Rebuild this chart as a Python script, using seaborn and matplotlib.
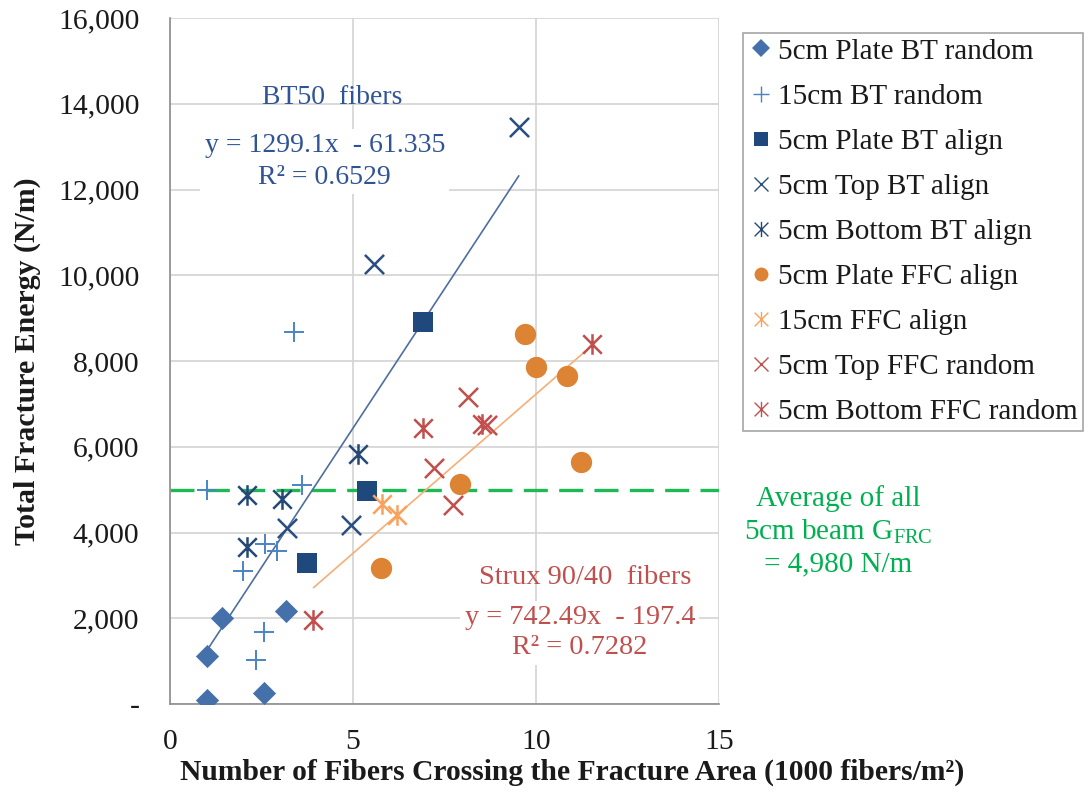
import numpy as np
import pandas as pd
import seaborn as sns
import matplotlib
matplotlib.use("Agg")
import matplotlib.pyplot as plt
from matplotlib.path import Path
from matplotlib.lines import Line2D

# ---- data: fibers crossing (1000 fibers/m^2) vs total fracture energy (N/m) ----
plate_bt_random_x = [1.0, 1.0, 1.43, 3.17, 2.58]
plate_bt_random_y = [100, 1120, 2000, 2170, 250]

bt15_random_x = [1.0, 1.99, 2.6, 2.93, 2.58, 2.34, 3.62, 3.38]
bt15_random_y = [5000, 3100, 3730, 3570, 1670, 1030, 5100, 8680]

plate_bt_align_x = [6.9, 5.37, 3.75]
plate_bt_align_y = [8910, 4960, 3290]

top_bt_align_x = [3.19, 4.94, 5.58, 9.53]
top_bt_align_y = [4110, 4180, 10260, 13460]

bottom_bt_align_x = [2.11, 3.07, 2.11, 5.15]
bottom_bt_align_y = [4880, 4780, 3660, 5840]

plate_ffc_align_x = [9.71, 9.99, 10.86, 11.22, 7.92, 5.76]
plate_ffc_align_y = [8640, 7860, 7650, 5650, 5140, 3170]

ffc15_align_x = [5.78, 6.19]
ffc15_align_y = [4660, 4400]

top_ffc_random_x = [8.15, 7.21, 7.72, 8.65]
top_ffc_random_y = [7150, 5510, 4630, 6510]

bottom_ffc_random_x = [6.92, 8.52, 11.52, 3.92]
bottom_ffc_random_y = [6430, 6520, 8390, 1970]

series_names = ["5cm Plate BT random", "15cm BT random", "5cm Plate BT align",
                "5cm Top BT align", "5cm Bottom BT align", "5cm Plate FFC align",
                "15cm FFC align", "5cm Top FFC random", "5cm Bottom FFC random"]

# trendline coefficients and the overall average
bt_slope, bt_intercept = 1299.1, -61.335
ffc_slope, ffc_intercept = 742.49, -197.4
avg_energy = 4980

xticks = [0, 5, 10, 15]
yticks = [0, 2000, 4000, 6000, 8000, 10000, 12000, 14000, 16000]
ytick_labels = ["-", "2,000", "4,000", "6,000", "8,000", "10,000", "12,000", "14,000", "16,000"]

# ---- long table ----
groups = [
    (plate_bt_random_x, plate_bt_random_y),
    (bt15_random_x, bt15_random_y),
    (plate_bt_align_x, plate_bt_align_y),
    (top_bt_align_x, top_bt_align_y),
    (bottom_bt_align_x, bottom_bt_align_y),
    (plate_ffc_align_x, plate_ffc_align_y),
    (ffc15_align_x, ffc15_align_y),
    (top_ffc_random_x, top_ffc_random_y),
    (bottom_ffc_random_x, bottom_ffc_random_y),
]
df = pd.concat([
    pd.DataFrame({"series": name, "fibers": gx, "energy": gy})
    for name, (gx, gy) in zip(series_names, groups)
], ignore_index=True)
df["fiber_type"] = np.where(df["series"].str.contains("BT"), "BT", "FFC")

# ---- style ----
sns.set_theme(style="white")
plt.rcParams["font.family"] = ["Liberation Serif", "DejaVu Serif"]
plt.rcParams["mathtext.fontset"] = "custom"
plt.rcParams["mathtext.rm"] = "Liberation Serif"
plt.rcParams["mathtext.it"] = "Liberation Serif:italic"

# six-armed star: vertical bar plus an X
star = Path([(0, -1), (0, 1), (-0.9, -0.9), (0.9, 0.9), (-0.9, 0.9), (0.9, -0.9)],
            [Path.MOVETO, Path.LINETO, Path.MOVETO, Path.LINETO, Path.MOVETO, Path.LINETO])

navy = "#1F497D"
styles = {
    "5cm Plate BT random":   dict(marker="D", color="#4571AA", s=140, lw=0, filled=True, lms=9),
    "15cm BT random":        dict(marker="+", color="#4A84C4", s=210, lw=1.4, filled=False, lms=11),
    "5cm Plate BT align":    dict(marker="s", color=navy, s=190, lw=0, filled=True, lms=9.5),
    "5cm Top BT align":      dict(marker="x", color="#2A4E82", s=190, lw=1.8, filled=False, lms=10),
    "5cm Bottom BT align":   dict(marker=star, color="#254877", s=220, lw=1.8, filled=False, lms=11),
    "5cm Plate FFC align":   dict(marker="o", color="#DC8334", s=235, lw=0, filled=True, lms=10),
    "15cm FFC align":        dict(marker=star, color="#F9A25C", s=220, lw=1.8, filled=False, lms=11),
    "5cm Top FFC random":    dict(marker="x", color="#C0504D", s=190, lw=1.8, filled=False, lms=10),
    "5cm Bottom FFC random": dict(marker=star, color="#C0504D", s=220, lw=1.8, filled=False, lms=11),
}

W, H, DPI = 1088, 795, 100
fig = plt.figure(figsize=(W / DPI, H / DPI), dpi=DPI)
ax = fig.add_axes([170 / W, 1 - 704 / H, (719 - 170) / W, (704 - 18) / H])

# grid and average line underneath the markers
ax.set_axisbelow(True)
ax.grid(True, color="#D3D3D3", lw=1.2)
ax.axhline(avg_energy, color="#1DB954", lw=2.4, dashes=(7.2, 3.4), zorder=1.5)

# trendlines over each fiber family's data range
for ftype, slope, icpt, col in [("BT", bt_slope, bt_intercept, "#4E6F9E"),
                                ("FFC", ffc_slope, ffc_intercept, "#F8AE74")]:
    sub = df[df["fiber_type"] == ftype]
    xs = np.array([sub["fibers"].min(), sub["fibers"].max()])
    sns.lineplot(x=xs, y=slope * xs + icpt, color=col, lw=1.2, ax=ax, zorder=2)

# markers, one series at a time
for name in series_names:
    st = styles[name]
    sub = df[df["series"] == name]
    kw = dict(data=sub, x="fibers", y="energy", marker=st["marker"], s=st["s"],
              ax=ax, legend=False, zorder=3)
    if st["filled"]:
        sns.scatterplot(color=st["color"], edgecolor=st["color"], linewidth=0, **kw)
    elif isinstance(st["marker"], Path):
        sns.scatterplot(color=st["color"], edgecolor=st["color"], linewidth=st["lw"], **kw)
    else:
        sns.scatterplot(color=st["color"], linewidth=st["lw"], **kw)

# axes
ax.set_xlim(0, 15)
ax.set_ylim(0, 16000)
ax.set_xticks(xticks)
ax.set_xticklabels([str(t) for t in xticks])
ax.set_yticks(yticks)
ax.set_yticklabels(ytick_labels)
ax.set_xlabel("")
ax.set_ylabel("")
for side in ["top", "right"]:
    ax.spines[side].set_visible(False)
for side in ["left", "bottom"]:
    ax.spines[side].set_color("#8C8C8C")
    ax.spines[side].set_linewidth(1.2)
ax.tick_params(axis="both", which="major", direction="out", length=7, width=1.2,
               color="#8C8C8C", labelsize=21.3, labelcolor="#1A1A1A")
ax.tick_params(axis="y", pad=15)
ax.tick_params(axis="x", pad=11)

fig.text(572 / W, 1 - 772 / H,
         "Number of Fibers Crossing the Fracture Area (1000 fibers/m²)",
         ha="center", va="center", fontsize=21.3, fontweight="bold", color="#1A1A1A")
fig.text(27 / W, 1 - 361 / H, "Total Fracture Energy (N/m)", rotation=90,
         ha="center", va="center", fontsize=21.5, fontweight="bold", color="#1A1A1A")

# trendline annotations
bt_col = "#2F5496"
ffc_col = "#C0504D"
ax.text(4.43, 14150, "BT50  fibers", ha="center", va="center", fontsize=20, color=bt_col, zorder=4)
ax.text(4.23, 12650, f"y = {bt_slope}x  - {abs(bt_intercept)}\nR² = 0.6529",
        ha="center", va="center", fontsize=20, color=bt_col, linespacing=1.38, zorder=4,
        bbox=dict(facecolor="white", edgecolor="none", pad=3))
ax.text(11.34, 2960, "Strux 90/40  fibers", ha="center", va="center", fontsize=20.5,
        color=ffc_col, zorder=4)
ax.text(11.2, 1665, f"y = {ffc_slope}x  - {abs(ffc_intercept)}\nR² = 0.7282",
        ha="center", va="center", fontsize=20.3, color=ffc_col, linespacing=1.3, zorder=4,
        bbox=dict(facecolor="white", edgecolor="none", pad=3))
ax.text(18.25, 4030, "Average of all\n5cm beam G$_{\\mathrm{FRC}}$\n= 4,980 N/m",
        ha="center", va="center", fontsize=21, color="#00B050", linespacing=1.27,
        clip_on=False)

# legend with compact markers
handles = []
for name in series_names:
    st = styles[name]
    if st["filled"]:
        h = Line2D([], [], linestyle="none", marker=st["marker"], markersize=st["lms"],
                   markerfacecolor=st["color"], markeredgecolor=st["color"], markeredgewidth=0)
    else:
        h = Line2D([], [], linestyle="none", marker=st["marker"], markersize=st["lms"],
                   markerfacecolor="none", markeredgecolor=st["color"], markeredgewidth=1.0)
    handles.append(h)
leg = ax.legend(handles, series_names, loc="upper left",
                bbox_to_anchor=(743 / W, 1 - 33 / H), bbox_transform=fig.transFigure,
                borderaxespad=0, fontsize=21, frameon=True, fancybox=False,
                framealpha=1, edgecolor="#A6A6A6", borderpad=0.18, labelspacing=0.64,
                handlelength=0.85, handletextpad=0.16)
leg.get_frame().set_linewidth(1.2)
for t in leg.get_texts():
    t.set_color("#1A1A1A")

fig.savefig("out.png", dpi=DPI, facecolor="white")
